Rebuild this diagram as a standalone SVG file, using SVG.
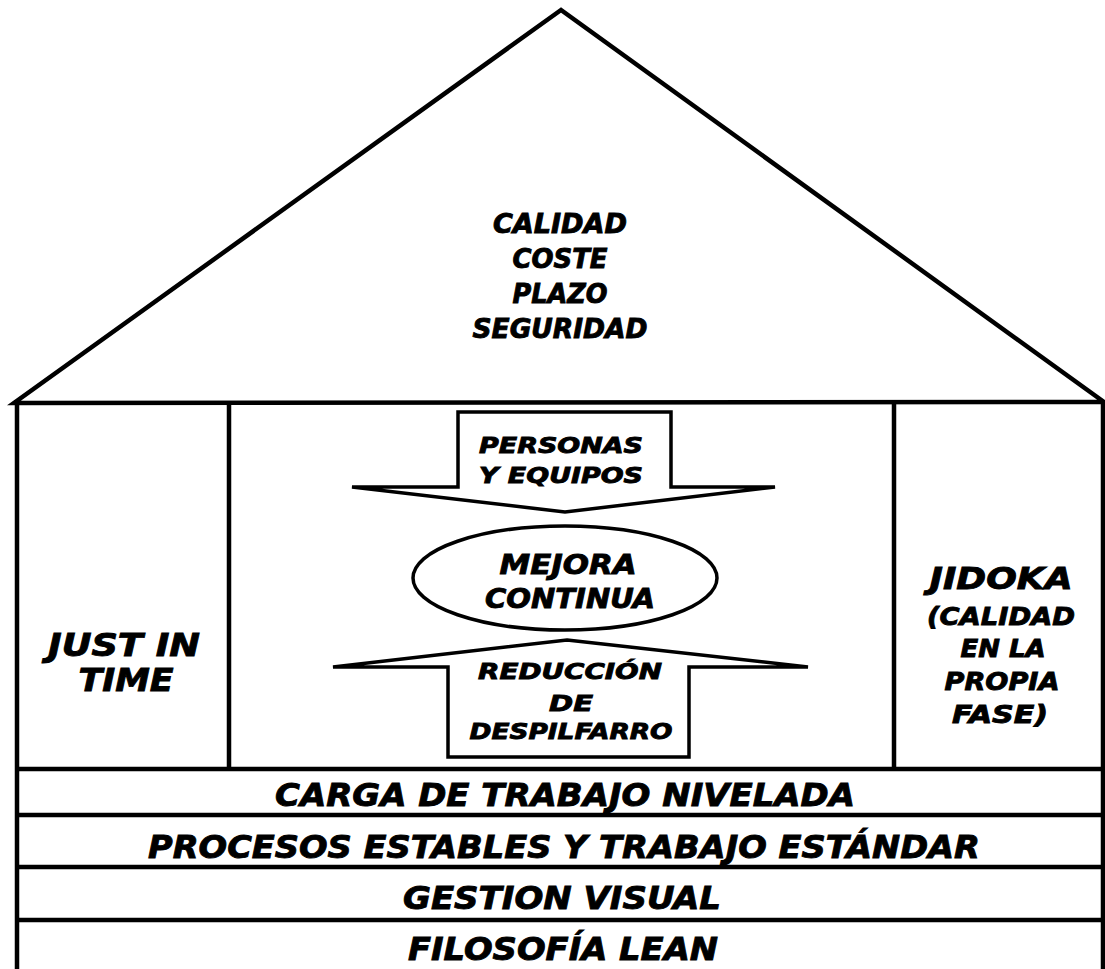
<svg xmlns="http://www.w3.org/2000/svg" width="1105" height="969" viewBox="0 0 1105 969">
<style>
.ln{fill:none;stroke:#000;stroke-width:4.5;stroke-linejoin:miter}
.sh{fill:#fff;stroke:#000;stroke-width:3.5;stroke-linejoin:miter}
text{font-family:"DejaVu Sans","Verdana",sans-serif;font-weight:bold;font-style:italic;fill:#000;stroke:#000;stroke-width:0.9;text-anchor:middle}
</style>
<rect x="0" y="0" width="1105" height="969" fill="#fff"/>
<g id="roof">
<polygon class="ln" points="561,10 14,403 1104,402"/>
<text x="560" y="233" font-size="26" textLength="134" lengthAdjust="spacingAndGlyphs">CALIDAD</text>
<text x="560" y="268" font-size="26" textLength="95" lengthAdjust="spacingAndGlyphs">COSTE</text>
<text x="560" y="303" font-size="26" textLength="95" lengthAdjust="spacingAndGlyphs">PLAZO</text>
<text x="560" y="338" font-size="26" textLength="175" lengthAdjust="spacingAndGlyphs">SEGURIDAD</text>
</g>
<g id="walls">
<line class="ln" x1="17" y1="403" x2="17" y2="969"/>
<line class="ln" x1="1103" y1="403" x2="1103" y2="969"/>
<line class="ln" x1="229" y1="403" x2="229" y2="769"/>
<line class="ln" x1="894" y1="403" x2="894" y2="769"/>
</g>
<g id="just-in-time">
<text x="124" y="656" font-size="32" textLength="152" lengthAdjust="spacingAndGlyphs">JUST IN</text>
<text x="126" y="691" font-size="32" textLength="95" lengthAdjust="spacingAndGlyphs">TIME</text>
</g>
<g id="jidoka">
<text x="1001" y="589" font-size="30" textLength="143" lengthAdjust="spacingAndGlyphs">JIDOKA</text>
<text x="1001" y="625" font-size="24" textLength="148" lengthAdjust="spacingAndGlyphs">(CALIDAD</text>
<text x="1003" y="657" font-size="24" textLength="85" lengthAdjust="spacingAndGlyphs">EN LA</text>
<text x="1002" y="690" font-size="24" textLength="115" lengthAdjust="spacingAndGlyphs">PROPIA</text>
<text x="1000" y="723" font-size="24" textLength="96" lengthAdjust="spacingAndGlyphs">FASE)</text>
</g>
<g id="personas-y-equipos">
<polygon class="sh" points="458,412 671,412 671,487 775,487 565,512 352,487 458,487"/>
<text x="561" y="453" font-size="22" textLength="164" lengthAdjust="spacingAndGlyphs">PERSONAS</text>
<text x="561" y="483" font-size="22" textLength="164" lengthAdjust="spacingAndGlyphs">Y EQUIPOS</text>
</g>
<g id="mejora-continua">
<ellipse class="sh" cx="565" cy="578" rx="152" ry="52"/>
<text x="568" y="574" font-size="27" textLength="137" lengthAdjust="spacingAndGlyphs">MEJORA</text>
<text x="570" y="608" font-size="27" textLength="170" lengthAdjust="spacingAndGlyphs">CONTINUA</text>
</g>
<g id="reduccion-de-despilfarro">
<polygon class="sh" points="567,640 808,667 689,667 689,757 448,757 448,667 333,667"/>
<text x="570" y="679" font-size="22" textLength="184" lengthAdjust="spacingAndGlyphs">REDUCCIÓN</text>
<text x="571" y="711" font-size="22" textLength="44" lengthAdjust="spacingAndGlyphs">DE</text>
<text x="571" y="739" font-size="22" textLength="203" lengthAdjust="spacingAndGlyphs">DESPILFARRO</text>
</g>
<g id="base-rows">
<line class="ln" x1="15" y1="769" x2="1105" y2="769"/>
<line class="ln" x1="15" y1="815" x2="1105" y2="815"/>
<line class="ln" x1="15" y1="867" x2="1105" y2="867"/>
<line class="ln" x1="15" y1="920" x2="1105" y2="920"/>
</g>
<g id="carga-de-trabajo">
<text x="565" y="806" font-size="32" textLength="580" lengthAdjust="spacingAndGlyphs">CARGA DE TRABAJO NIVELADA</text>
</g>
<g id="procesos-estables">
<text x="564" y="858" font-size="32" textLength="832" lengthAdjust="spacingAndGlyphs">PROCESOS ESTABLES Y TRABAJO ESTÁNDAR</text>
</g>
<g id="gestion-visual">
<text x="562" y="909" font-size="32" textLength="318" lengthAdjust="spacingAndGlyphs">GESTION VISUAL</text>
</g>
<g id="filosofia-lean">
<text x="563" y="960" font-size="32" textLength="310" lengthAdjust="spacingAndGlyphs">FILOSOFÍA LEAN</text>
</g>
<g id="connectors"></g>
</svg>
